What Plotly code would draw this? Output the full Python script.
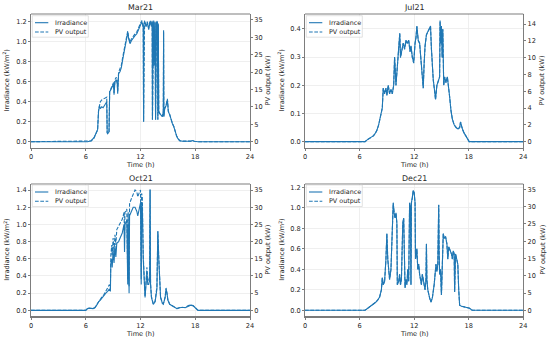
import plotly.graph_objects as go

# ---------------- data ----------------
x_ticks = [0, 6, 12, 18, 24]

mar_t = [0, 6.2, 6.6, 6.9, 7.1, 7.3, 7.4, 7.5, 7.6, 7.75,
         7.9, 8.1, 8.3, 8.35, 8.4, 8.55, 8.62, 8.75, 8.9, 9.05,
         9.1, 9.2, 9.35, 9.45, 9.5, 9.6, 9.75, 9.9, 10.05, 10.2,
         10.35, 10.5, 10.6, 10.7, 10.85, 11.0, 11.2, 11.4, 11.6, 11.8,
         12.0, 12.15, 12.3, 12.34, 12.37, 12.45, 12.6, 12.75, 12.9, 13.05,
         13.2, 13.28, 13.31, 13.38, 13.45, 13.48, 13.52, 13.6, 13.65, 13.68,
         13.75, 13.85, 13.9, 13.95, 14.0, 14.1, 14.25, 14.4, 14.5, 14.53,
         14.56, 14.65, 14.8, 14.95, 15.05, 15.2, 15.35, 15.5, 15.65, 15.8,
         15.95, 16.1, 16.3, 16.6, 17.0, 17.5, 17.7, 17.9, 18.3, 24]
mar_irr = [0, 0, 0.01, 0.04, 0.08, 0.12, 0.3, 0.36, 0.33, 0.35,
           0.34, 0.37, 0.4, 0.09, 0.08, 0.1, 0.5, 0.52, 0.55, 0.58,
           0.47, 0.6, 0.62, 0.58, 0.48, 0.68, 0.7, 0.74, 0.82, 0.9,
           0.96, 1.04, 1.09, 1.03, 0.98, 1.01, 1.04, 1.06, 1.08, 1.12,
           1.17, 1.2, 1.14, 0.2, 1.18, 1.2, 1.15, 1.19, 1.12, 1.2,
           1.15, 1.2, 0.22, 1.18, 1.2, 0.76, 1.15, 1.19, 0.22, 1.15,
           1.18, 1.2, 0.22, 1.17, 0.3, 0.28, 0.26, 0.25, 0.3, 1.1,
           0.25, 0.33, 0.36, 0.42, 0.3, 0.27, 0.22, 0.18, 0.15, 0.1,
           0.06, 0.03, 0.01, 0.005, 0.003, 0.005, 0.012, 0.005, 0, 0]
mar_pv = [0, 0, 0.2, 1.0, 2.2, 3.4, 9.0, 11.0, 11.5, 12.0,
          12.2, 12.5, 12.8, 2.6, 2.3, 2.8, 14.5, 15.2, 16.0, 17.0,
          14.0, 17.8, 18.5, 17.2, 14.5, 20.0, 21.0, 22.0, 24.3, 26.5,
          28.2, 30.5, 31.8, 30.0, 28.6, 29.5, 30.4, 31.0, 31.6, 32.6,
          34.0, 34.8, 33.0, 5.8, 34.2, 34.8, 33.5, 34.5, 32.6, 34.8,
          33.5, 34.8, 6.4, 34.2, 34.8, 22.0, 33.5, 34.5, 6.4, 33.5,
          34.2, 34.8, 6.4, 34.0, 8.8, 8.2, 7.6, 7.3, 8.8, 32.0,
          7.3, 9.6, 10.5, 12.3, 8.8, 7.8, 6.4, 5.2, 4.4, 2.9,
          1.7, 0.9, 0.3, 0.15, 0.1, 0.15, 0.35, 0.15, 0, 0]

jul_t = [0, 6.6, 6.9, 7.2, 7.5, 7.7, 7.9, 8.1, 8.3, 8.5,
         8.6, 8.75, 8.9, 9.0, 9.15, 9.3, 9.45, 9.6, 9.75, 9.85,
         9.9, 10.0, 10.15, 10.3, 10.42, 10.5, 10.65, 10.8, 10.95, 11.1,
         11.25, 11.4, 11.55, 11.65, 11.8, 11.95, 12.1, 12.2, 12.3, 12.45,
         12.6, 12.75, 12.9, 13.0, 13.1, 13.2, 13.35, 13.5, 13.65, 13.8,
         13.9, 14.0, 14.1, 14.25, 14.35, 14.5, 14.65, 14.8, 14.85, 14.92,
         15.0, 15.08, 15.15, 15.25, 15.35, 15.5, 15.65, 15.75, 15.9, 16.05,
         16.2, 16.4, 16.6, 16.8, 17.0, 17.1, 17.2, 17.35, 17.5, 17.7,
         17.9, 18.05, 24]
jul_irr = [0, 0, 0.008, 0.015, 0.02, 0.028, 0.04, 0.06, 0.09, 0.12,
           0.19, 0.17, 0.19, 0.165, 0.2, 0.17, 0.185, 0.17, 0.2, 0.3,
           0.27, 0.2, 0.28, 0.32, 0.385, 0.3, 0.32, 0.35, 0.33, 0.36,
           0.35, 0.36, 0.32, 0.34, 0.3, 0.28, 0.35, 0.37, 0.41, 0.36,
           0.35, 0.3, 0.25, 0.19, 0.28, 0.34, 0.38, 0.39, 0.4, 0.41,
           0.33, 0.27, 0.22, 0.18, 0.15, 0.2, 0.22, 0.23, 0.43, 0.35,
           0.41, 0.3, 0.4, 0.2, 0.23, 0.21, 0.23, 0.19, 0.16, 0.11,
           0.08, 0.06, 0.05, 0.045, 0.05, 0.07, 0.055, 0.04, 0.03, 0.02,
           0.008, 0, 0]
jul_pv = [0, 0, 0.27, 0.5, 0.67, 0.94, 1.34, 2.0, 3.0, 4.0,
          6.35, 5.7, 6.35, 5.5, 6.7, 5.7, 6.2, 5.7, 6.7, 10.0,
          9.0, 6.7, 9.35, 10.7, 12.85, 10.0, 10.7, 11.7, 11.0, 12.0,
          11.7, 12.0, 10.7, 11.35, 10.0, 9.35, 11.7, 12.35, 13.7, 12.0,
          11.7, 10.0, 8.35, 6.35, 9.35, 11.35, 12.7, 13.0, 13.35, 13.7,
          11.0, 9.0, 7.35, 6.0, 5.0, 6.7, 7.35, 7.7, 14.35, 11.7,
          13.7, 10.0, 13.35, 6.7, 7.7, 7.0, 7.7, 6.35, 5.35, 3.7,
          2.7, 2.0, 1.67, 1.5, 1.67, 2.34, 1.84, 1.34, 1.0, 0.67,
          0.27, 0, 0]

oct_t = [0, 6.0, 6.2, 6.4, 6.8, 7.0, 7.2, 7.4, 7.6, 7.8,
         8.0, 8.2, 8.4, 8.6, 8.7, 8.75, 8.85, 8.9, 9.0, 9.1,
         9.2, 9.3, 9.4, 9.6, 9.8, 10.0, 10.2, 10.25, 10.3, 10.5,
         10.6, 10.65, 10.75, 10.8, 11.0, 11.2, 11.4, 11.6, 11.7, 11.9,
         12.0, 12.08, 12.12, 12.2, 12.3, 12.4, 12.5, 12.6, 12.7, 12.8,
         12.9, 13.0, 13.05, 13.1, 13.2, 13.4, 13.6, 13.8, 13.9, 14.0,
         14.1, 14.2, 14.4, 14.5, 14.7, 14.8, 14.9, 15.0, 15.2, 15.5,
         15.8, 16.0, 16.3, 16.6, 16.9, 17.2, 17.5, 17.8, 18.1, 18.3,
         24]
oct_irr = [0, 0, 0.02, 0.025, 0.02, 0.03, 0.06, 0.1, 0.12, 0.15,
           0.17, 0.2, 0.22, 0.25, 0.22, 0.55, 0.6, 0.5, 0.7, 0.55,
           0.75, 0.62, 0.78, 0.8, 0.85, 0.9, 1.0, 0.68, 1.0, 1.05,
           0.3, 1.0, 0.2, 1.1, 1.15, 1.2, 1.2, 1.15, 1.1, 1.2,
           1.25, 0.3, 1.22, 1.2, 0.6, 0.25, 0.15, 0.3, 0.45, 0.3,
           0.3, 0.35, 1.41, 0.3, 0.15, 0.07, 0.1, 0.25, 0.92, 0.6,
           0.3, 0.15, 0.08, 0.07, 0.15, 0.25, 0.2, 0.12, 0.07, 0.05,
           0.03, 0.02, 0.03, 0.035, 0.03, 0.05, 0.06, 0.05, 0.02, 0,
           0]
oct_pv = [0, 0, 0.6, 0.6, 0.5, 0.8, 1.6, 2.6, 3.2, 4.0,
          4.6, 5.5, 6.3, 7.5, 6.5, 16.0, 19.0, 16.0, 21.0, 17.0,
          22.0, 19.0, 23.5, 24.5, 25.5, 26.5, 28.5, 21.0, 28.5, 29.5,
          9.0, 28.5, 7.0, 31.0, 32.5, 34.0, 35.0, 34.5, 33.0, 34.5,
          35.0, 9.0, 34.0, 33.0, 16.0, 7.0, 4.0, 8.0, 12.5, 9.0,
          8.5, 9.5, 35.0, 8.0, 4.0, 1.9, 2.6, 7.0, 23.0, 15.5,
          7.5, 3.8, 2.1, 1.9, 3.8, 6.5, 5.0, 3.0, 1.8, 1.3,
          0.8, 0.5, 0.8, 0.9, 0.8, 1.3, 1.6, 1.3, 0.5, 0,
          0]

dec_t = [0, 6.6, 6.9, 7.2, 7.4, 7.6, 7.8, 8.0, 8.2, 8.4,
         8.5, 8.6, 8.75, 8.9, 9.0, 9.1, 9.2, 9.3, 9.45, 9.6,
         9.7, 9.8, 9.9, 10.0, 10.1, 10.15, 10.3, 10.4, 10.5, 10.6,
         10.75, 10.85, 10.95, 11.0, 11.1, 11.2, 11.3, 11.4, 11.5, 11.6,
         11.65, 11.7, 11.8, 11.9, 12.0, 12.1, 12.15, 12.3, 12.4, 12.5,
         12.6, 12.8, 12.9, 13.0, 13.2, 13.3, 13.35, 13.4, 13.5, 13.7,
         13.85, 14.0, 14.2, 14.4, 14.5, 14.6, 14.7, 14.75, 14.8, 14.9,
         15.0, 15.1, 15.2, 15.3, 15.45, 15.6, 15.7, 15.8, 15.9, 16.0,
         16.1, 16.2, 16.3, 16.4, 16.45, 16.55, 16.7, 16.8, 16.9, 17.0,
         17.2, 17.5, 17.8, 18.1, 18.3, 18.4, 24]
dec_irr = [0, 0, 0.02, 0.04, 0.05, 0.06, 0.08, 0.1, 0.13, 0.2,
           0.32, 0.25, 0.28, 0.5, 0.75, 0.5, 0.35, 0.3, 0.4, 0.7,
           1.05, 0.95, 0.9, 0.95, 0.85, 0.25, 0.28, 0.35, 0.25, 0.3,
           0.85, 0.9, 0.5, 0.22, 0.3, 0.25, 0.4, 0.28, 1.05, 1.0,
           0.25, 1.05, 1.1, 1.17, 1.15, 1.05, 0.5, 0.6, 0.4, 0.45,
           0.35, 0.25, 0.35, 0.3, 0.2, 0.3, 0.65, 0.3, 0.2, 0.12,
           0.08, 0.12, 0.25, 0.45, 0.38, 0.45, 1.03, 0.55, 0.35, 0.4,
           0.15, 0.45, 0.75, 0.7, 0.72, 0.65, 0.5, 0.62, 0.6, 0.58,
           0.55, 0.5, 0.58, 0.55, 0.18, 0.55, 0.5, 0.45, 0.2, 0.05,
           0.04, 0.035, 0.03, 0.02, 0.005, 0, 0]
dec_pv = [0, 0, 0.6, 1.2, 1.5, 1.8, 2.4, 3.0, 3.8, 5.9,
          9.5, 7.4, 8.3, 14.8, 22.2, 14.8, 10.4, 8.9, 11.8, 20.7,
          31.0, 28.1, 26.6, 28.1, 25.2, 7.4, 8.3, 10.4, 7.4, 8.9,
          25.2, 26.6, 14.8, 6.5, 8.9, 7.4, 11.8, 8.3, 31.0, 29.6,
          7.4, 31.0, 32.6, 34.6, 34.0, 31.0, 14.8, 17.8, 11.8, 13.3,
          10.4, 7.4, 10.4, 8.9, 5.9, 8.9, 19.2, 8.9, 5.9, 3.6,
          2.4, 3.6, 7.4, 13.3, 11.2, 13.3, 30.5, 16.3, 10.4, 11.8,
          4.4, 13.3, 22.2, 20.7, 21.3, 19.2, 14.8, 18.4, 17.8, 17.2,
          16.3, 14.8, 17.2, 16.3, 5.3, 16.3, 14.8, 13.3, 5.9, 1.5,
          1.2, 1.0, 0.9, 0.6, 0.15, 0, 0]

mar_irr_ticks = [0, 0.2, 0.4, 0.6, 0.8, 1.0, 1.2]
jul_irr_ticks = [0, 0.1, 0.2, 0.3, 0.4]
oct_irr_ticks = [0, 0.2, 0.4, 0.6, 0.8, 1.0, 1.2, 1.4]
dec_irr_ticks = [0, 0.2, 0.4, 0.6, 0.8, 1.0, 1.2]
pv_ticks_35 = [0, 5, 10, 15, 20, 25, 30, 35]
jul_pv_ticks = [0, 2, 4, 6, 8, 10, 12, 14]

titles = ["Mar21", "Jul21", "Oct21", "Dec21"]

# ---------------- layout helpers ----------------
W, H = 550, 341
BLUE = "#1f77b4"
FONT = "DejaVu Sans"
DARK = "#262626"
GRID = "#ebebeb"


def fx(x):
    return x / W


def fy(y):
    return 1 - y / H


panels = [
    dict(title=titles[0], t=mar_t, irr=mar_irr, pv=mar_pv,
         box=(31, 250, 14, 147.5), lr=[-0.058, 1.277], rr=[-1.67, 36.7],
         lt=mar_irr_ticks, rt=pv_ticks_35, ylab_x=(6.7, 267.7), title_y=8, xlab_y=165),
    dict(title=titles[1], t=jul_t, irr=jul_irr, pv=jul_pv,
         box=(305, 523.3, 14, 147.5), lr=[-0.021, 0.453], rr=[-0.69, 15.2],
         lt=jul_irr_ticks, rt=jul_pv_ticks, ylab_x=(281.7, 541.7), title_y=8, xlab_y=165),
    dict(title=titles[2], t=oct_t, irr=oct_irr, pv=oct_pv,
         box=(31, 250, 184, 316), lr=[-0.066, 1.47], rr=[-1.66, 36.75],
         lt=oct_irr_ticks, rt=pv_ticks_35, ylab_x=(6.7, 267.7), title_y=178, xlab_y=334.3),
    dict(title=titles[3], t=dec_t, irr=dec_irr, pv=dec_pv,
         box=(305, 523.3, 184, 316), lr=[-0.056, 1.232], rr=[-1.65, 36.55],
         lt=dec_irr_ticks, rt=pv_ticks_35, ylab_x=(281.7, 542.7), title_y=178, xlab_y=334.3),
]

fig = go.Figure()
layout = dict(
    width=W, height=H, margin=dict(l=0, r=0, t=0, b=0, autoexpand=False),
    paper_bgcolor="white", plot_bgcolor="white", showlegend=False,
    font=dict(family=FONT, color=DARK, size=7),
)
annotations = []
shapes = []

tickfont = dict(family=FONT, size=6.6, color=DARK)

for i, p in enumerate(panels):
    xi = i + 1
    yl = 2 * i + 1
    yr = 2 * i + 2
    xname = "x" if xi == 1 else f"x{xi}"
    ylname = "y" if yl == 1 else f"y{yl}"
    yrname = f"y{yr}"
    x0, x1, y0, y1 = p["box"]

    fig.add_trace(go.Scatter(x=p["t"], y=p["irr"], mode="lines", name="Irradiance",
                             line=dict(color=BLUE, width=1.1), xaxis=xname, yaxis=ylname))
    fig.add_trace(go.Scatter(x=p["t"], y=p["pv"], mode="lines", name="PV output",
                             line=dict(color=BLUE, width=1.1, dash="3.7px,1.6px"),
                             xaxis=xname, yaxis=yrname))

    layout["xaxis" if xi == 1 else f"xaxis{xi}"] = dict(
        domain=[fx(x0), fx(x1)], anchor=ylname, range=[0, 24], tickvals=x_ticks,
        showgrid=True, gridcolor=GRID, gridwidth=0.8, zeroline=False,
        showline=True, linecolor="#7a7a7a", linewidth=1.6,
        ticks="outside", ticklen=2.3, tickwidth=0.6, tickcolor=DARK, tickfont=tickfont,
    )
    layout["yaxis" if yl == 1 else f"yaxis{yl}"] = dict(
        domain=[fy(y1), fy(y0)], anchor=xname, range=p["lr"], tickvals=p["lt"],
        tickformat=".1f", showgrid=True, gridcolor=GRID, gridwidth=0.8, zeroline=False,
        showline=True, linecolor=DARK, linewidth=0.6,
        ticks="outside", ticklen=2.3, tickwidth=0.6, tickcolor=DARK, tickfont=tickfont,
    )
    layout[f"yaxis{yr}"] = dict(
        overlaying=ylname, side="right", anchor=xname, range=p["rr"], tickvals=p["rt"],
        showgrid=False, zeroline=False, showline=True, linecolor=DARK, linewidth=0.6,
        ticks="outside", ticklen=2.3, tickwidth=0.6, tickcolor=DARK, tickfont=tickfont,
    )

    # top spine
    shapes.append(dict(type="line", xref="paper", yref="paper",
                       x0=fx(x0), x1=fx(x1), y0=fy(y0), y1=fy(y0),
                       line=dict(color=DARK, width=0.6), layer="above"))

    cx = (x0 + x1) / 2
    cy = (y0 + y1) / 2
    annotations.append(dict(text=p["title"], x=fx(cx), y=fy(p["title_y"]), xref="paper", yref="paper",
                            showarrow=False, xanchor="center", yanchor="middle",
                            font=dict(family=FONT, size=7.9, color=DARK)))
    annotations.append(dict(text="Time (h)", x=fx(cx), y=fy(p["xlab_y"]), xref="paper", yref="paper",
                            showarrow=False, xanchor="center", yanchor="middle",
                            font=dict(family=FONT, size=6.6, color=DARK)))
    annotations.append(dict(text="Irradiance (kW/m<sup>2</sup>)", x=fx(p["ylab_x"][0]), y=fy(cy),
                            xref="paper", yref="paper", showarrow=False, textangle=-90,
                            xanchor="center", yanchor="middle",
                            font=dict(family=FONT, size=6.6, color=DARK)))
    annotations.append(dict(text="PV output (kW)", x=fx(p["ylab_x"][1]), y=fy(cy),
                            xref="paper", yref="paper", showarrow=False, textangle=-90,
                            xanchor="center", yanchor="middle",
                            font=dict(family=FONT, size=6.6, color=DARK)))

    # legend (drawn manually to match matplotlib's compact legend)
    lx0 = x0 + 1.3
    ly0 = y0 + 1.7 if i < 2 else y0 + 1.0
    shapes.append(dict(type="rect", xref="paper", yref="paper",
                       x0=fx(lx0), x1=fx(lx0 + 56), y0=fy(ly0), y1=fy(ly0 + 21.5),
                       fillcolor="rgba(255,255,255,0.8)", line=dict(color="#d6d6d6", width=0.7),
                       layer="above"))
    shapes.append(dict(type="line", xref="paper", yref="paper",
                       x0=fx(lx0 + 2.7), x1=fx(lx0 + 16), y0=fy(ly0 + 7), y1=fy(ly0 + 7),
                       line=dict(color=BLUE, width=1.1), layer="above"))
    shapes.append(dict(type="line", xref="paper", yref="paper",
                       x0=fx(lx0 + 2.7), x1=fx(lx0 + 16), y0=fy(ly0 + 16.3), y1=fy(ly0 + 16.3),
                       line=dict(color=BLUE, width=1.1, dash="3.7px,1.6px"), layer="above"))
    annotations.append(dict(text="Irradiance", x=fx(lx0 + 21), y=fy(ly0 + 7), xref="paper", yref="paper",
                            showarrow=False, xanchor="left", yanchor="middle",
                            font=dict(family=FONT, size=6.4, color=DARK)))
    annotations.append(dict(text="PV output", x=fx(lx0 + 21), y=fy(ly0 + 16.3), xref="paper", yref="paper",
                            showarrow=False, xanchor="left", yanchor="middle",
                            font=dict(family=FONT, size=6.4, color=DARK)))

layout["annotations"] = annotations
layout["shapes"] = shapes
fig.update_layout(**layout)

fig.write_html(
    "out.html",
    config={"displayModeBar": False, "staticPlot": True},
    post_script="document.body.style.margin='0';document.body.style.padding='0';"
                "document.body.style.overflow='hidden';",
)
